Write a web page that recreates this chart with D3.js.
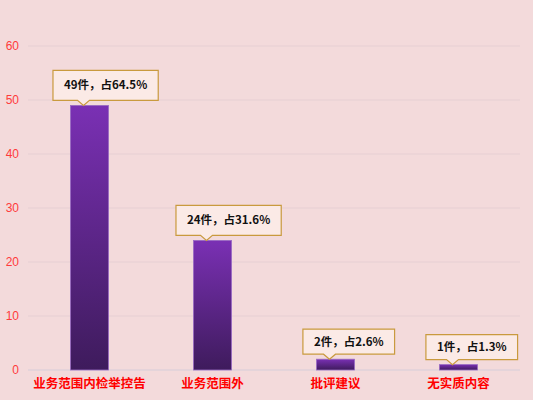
<!DOCTYPE html>
<html>
<head>
<meta charset="utf-8">
<script src="https://cdn.jsdelivr.net/npm/d3@7"></script>
<style>
  body { margin: 0; background: #f3dadb; }
  text { font-family: "Microsoft YaHei", "Noto Sans CJK SC", sans-serif; }
</style>
</head>
<body>
<script>
var categories = ["业务范围内检举控告", "业务范围外", "批评建议", "无实质内容"];
var counts = [49, 24, 2, 1];
var labels = ["49件，占64.5%", "24件，占31.6%", "2件，占2.6%", "1件，占1.3%"];
var yTicks = [0, 10, 20, 30, 40, 50, 60];

var vizWidth = 533,
    vizHeight = 400,
    margin = { top: 46, right: 13, bottom: 30, left: 28 },
    plotWidth = vizWidth - margin.left - margin.right,
    plotHeight = vizHeight - margin.top - margin.bottom;

var svg = d3.select("body").append("svg")
    .attr("width", vizWidth)
    .attr("height", vizHeight);

svg.append("rect")
    .attr("width", vizWidth)
    .attr("height", vizHeight)
    .attr("fill", "#f3dadb");

var defs = svg.append("defs");
var grad = defs.append("linearGradient")
    .attr("id", "barGrad")
    .attr("x1", 0).attr("y1", 0).attr("x2", 0).attr("y2", 1);
grad.append("stop").attr("offset", "0%").attr("stop-color", "#7a30b4");
grad.append("stop").attr("offset", "100%").attr("stop-color", "#3e1b5c");

var plot = svg.append("g")
    .attr("transform", "translate(" + margin.left + "," + margin.top + ")");

var x = d3.scaleBand()
    .domain(categories)
    .range([0, plotWidth])
    .paddingInner(0.69)
    .paddingOuter(0.345);

var y = d3.scaleLinear()
    .domain([0, 60])
    .range([plotHeight, 0]);

// gridlines
plot.append("g")
    .selectAll("line")
    .data(yTicks.filter(function (d) { return d > 0; }))
    .enter().append("line")
    .attr("x1", 0)
    .attr("x2", plotWidth)
    .attr("y1", function (d) { return y(d); })
    .attr("y2", function (d) { return y(d); })
    .attr("stroke", "#e6cfd3")
    .attr("stroke-width", 1);

// baseline
plot.append("line")
    .attr("x1", 0)
    .attr("x2", plotWidth)
    .attr("y1", y(0))
    .attr("y2", y(0))
    .attr("stroke", "#d6cdd9")
    .attr("stroke-width", 1);

// y axis labels
var yAxis = plot.append("g")
    .call(d3.axisLeft(y).tickValues(yTicks).tickSize(0).tickPadding(9));
yAxis.select(".domain").remove();
yAxis.selectAll("text")
    .attr("fill", "#ff3b3b")
    .style("font-size", "12px")
    .style("font-family", "'Liberation Sans', Arial, sans-serif");

// x axis labels
var xAxis = plot.append("g")
    .attr("transform", "translate(0," + plotHeight + ")")
    .call(d3.axisBottom(x).tickSize(0).tickPadding(9));
xAxis.select(".domain").remove();
xAxis.selectAll("text")
    .attr("fill", "#ff0000")
    .style("font-size", "12.5px")
    .style("font-weight", "bold");

// bars
plot.selectAll(".bar")
    .data(counts)
    .enter().append("rect")
    .attr("class", "bar")
    .attr("x", function (d, i) { return x(categories[i]); })
    .attr("y", function (d) { return y(d); })
    .attr("width", x.bandwidth())
    .attr("height", function (d) { return plotHeight - y(d); })
    .attr("fill", "url(#barGrad)")
    .attr("stroke", "#9a6cc4")
    .attr("stroke-width", 0.8);

// callouts: pointer sits a little left of bar centre, box shifted right
var callouts = plot.selectAll(".callout")
    .data(counts)
    .enter().append("g")
    .attr("class", "callout")
    .attr("transform", function (d, i) {
        return "translate(" + (x(categories[i]) + x.bandwidth() / 2 - 6) + "," + (y(d) - 5) + ")";
    });

callouts.each(function (d, i) {
    var g = d3.select(this);
    var t = g.append("text")
        .attr("fill", "#111")
        .style("font-size", "11.5px")
        .style("font-weight", "bold")
        .text(labels[i]);
    var tw = t.node().getComputedTextLength();
    var w = i < 2 ? tw + 22 : tw + 22,
        h = i < 2 ? 30 : 25;
    var left = -0.29 * w;
    t.attr("x", left + w / 2)
        .attr("y", -h / 2 + 4)
        .attr("text-anchor", "middle");
    var p = "M" + left + "," + (-h) +
        "H" + (left + w) + "V0H6L0,5L-6,0H" + left + "Z";
    g.insert("path", "text")
        .attr("d", p)
        .attr("fill", "#fbeae6")
        .attr("stroke", "#c99a3e")
        .attr("stroke-width", 1.2);
});
</script>
</body>
</html>
